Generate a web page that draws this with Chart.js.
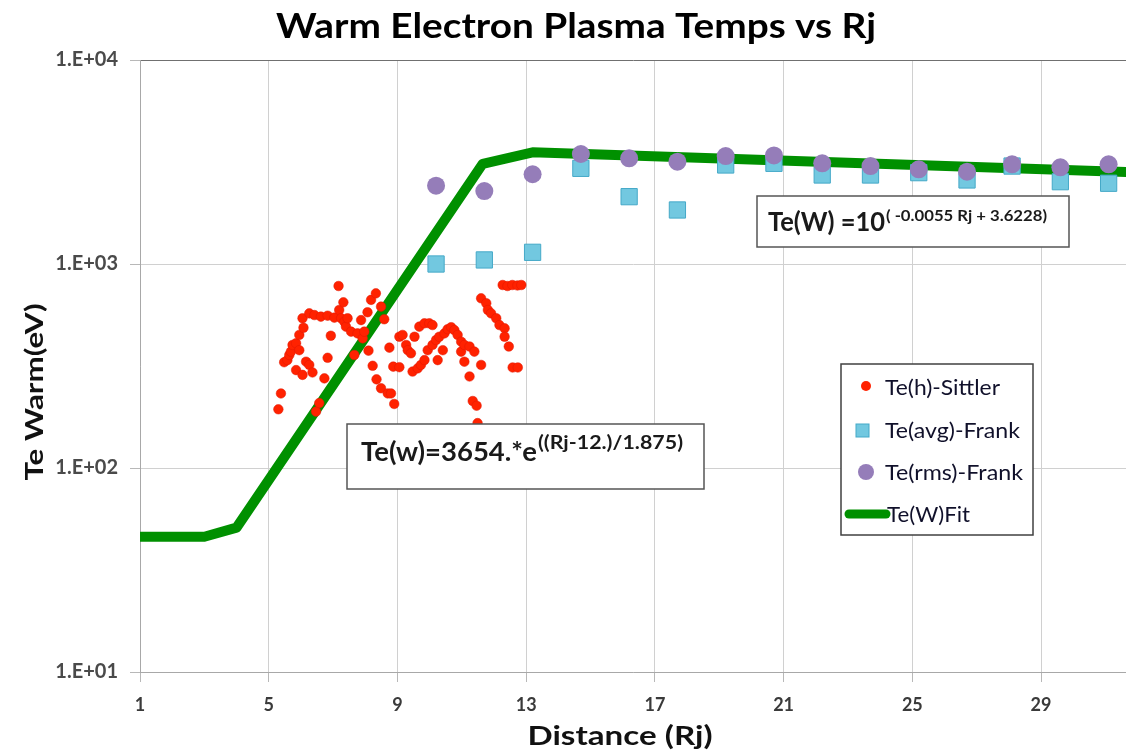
<!DOCTYPE html>
<html><head><meta charset="utf-8">
<script src="https://cdn.jsdelivr.net/npm/chart.js@4"></script>
<style>html,body{margin:0;padding:0;background:#fff;}#wrap{width:1126px;height:753px;position:relative;}canvas{display:block}</style>
</head><body><div id="wrap"><canvas id="c" width="1126" height="753"></canvas></div>
<script>
const chartTitle = 'Warm Electron Plasma Temps vs Rj';
const xAxisTitle = 'Distance (Rj)';
const yAxisTitle = 'Te Warm(eV)';
const xTicks = [1, 5, 9, 13, 17, 21, 25, 29];
const yTicks = [10, 100, 1000, 10000];
const yTickLabels = ['1.E+01', '1.E+02', '1.E+03', '1.E+04'];
const legendLabels = ['Te(h)-Sittler', 'Te(avg)-Frank', 'Te(rms)-Frank', 'Te(W)Fit'];
const fitNote1 = ['Te(w)=3654.*e', '((Rj-12.)/1.875)'];
const fitNote2 = ['Te(W) =10', '( -0.0055 Rj + 3.6228)'];

const sittlerRj = [5.30,5.38,5.48,5.58,5.64,5.69,5.74,5.85,5.95,5.95,6.05,6.08,5.85,6.05,6.16,6.26,6.26,6.36,6.42,6.47,
  6.57,6.62,6.73,6.83,6.83,6.93,7.04,7.17,7.19,7.25,7.32,7.35,7.40,7.45,7.56,7.66,7.76,7.87,7.92,7.97,
  8.07,8.10,8.18,8.23,8.33,8.35,8.49,8.49,8.59,8.70,8.75,8.87,8.90,8.80,9.06,9.06,9.16,9.27,9.32,9.42,
  9.47,9.53,9.63,9.68,9.73,9.84,9.84,9.94,9.99,10.09,10.09,10.20,10.25,10.30,10.41,10.46,10.56,10.67,10.77,10.87,
  10.98,10.98,11.08,11.08,11.24,11.24,11.39,11.34,11.46,11.49,11.60,11.60,11.76,11.81,11.91,12.07,12.17,12.33,12.33,12.46,
  12.58,12.74,12.27,12.42,12.57,12.73,12.85];
const sittlerTe = [194,232,330,338,358,372,401,409,449,378,542,487,302,286,332,320,573,294,562,189,
  208,552,275,558,347,445,546,780,595,542,649,521,493,542,466,358,457,531,432,466,
  580,376,667,317,718,272,618,246,536,232,389,314,206,232,440,312,449,401,378,365,
  297,440,308,493,320,512,338,378,512,502,401,424,338,440,378,457,479,490,474,449,
  416,372,401,332,394,281,372,213,202,166,320,679,642,595,573,542,502,484,440,394,
  311,311,789,780,789,785,789];

const frankRj = [10.2,11.7,13.2,14.7,16.2,17.7,19.2,20.7,22.2,23.7,25.2,26.7,28.1,29.6,31.1];
const frankAvgTe = [1000,1047,1141,2944,2138,1840,3058,3116,2731,2731,2804,2582,3021,2532,2488];
const frankRmsTe = [2421,2279,2754,3461,3298,3172,3383,3404,3116,3021,2911,2834,3082,2979,3082];

const fitRj = [1, 3, 4, 11.65, 13.2, 32];
const fitTe = [46, 46, 51, 3100, 3530, 2810];

const RED = '#ff2200', BLUE = '#72c8e0', BLUE_B = '#45a9c8', PURPLE = '#957db9', GREEN = '#009000';

const toXY = (xs, ys) => xs.map((x, i) => ({x, y: ys[i]}));

function fitText(ctx, text, x, y, font, targetW, color, align) {
  ctx.save();
  ctx.font = font;
  const w = ctx.measureText(text).width;
  const s = targetW ? targetW / w : 1;
  ctx.translate(x, y);
  ctx.scale(s, 1);
  ctx.fillStyle = color;
  ctx.textAlign = align || 'left';
  ctx.textBaseline = 'alphabetic';
  ctx.fillText(text, 0, 0);
  ctx.restore();
}
function fitTextMid(ctx, text, x, y, font, targetW, color) {
  ctx.save();
  ctx.font = font;
  const w = ctx.measureText(text).width;
  const s = targetW ? targetW / w : 1;
  ctx.translate(x, y);
  ctx.scale(s, 1);
  ctx.fillStyle = color;
  ctx.textAlign = 'left';
  ctx.textBaseline = 'middle';
  ctx.fillText(text, 0, 0);
  ctx.restore();
}

const overlay = {
  id: 'overlay',
  afterDraw(chart) {
    const ctx = chart.ctx;
    ctx.save();
    fitText(ctx, chartTitle, 576, 38, 'bold 34px Lato', 600, '#000', 'center');
    fitText(ctx, xAxisTitle, 620, 745, 'bold 26px Lato', 185, '#111', 'center');
    ctx.save();
    ctx.translate(43, 392);
    ctx.rotate(-Math.PI / 2);
    fitText(ctx, yAxisTitle, 0, 0, 'bold 25px Lato', 177, '#111', 'center');
    ctx.restore();

    ctx.fillStyle = '#fff';
    ctx.fillRect(347, 424, 357, 65);
    ctx.strokeStyle = '#555';
    ctx.lineWidth = 1.5;
    ctx.strokeRect(347, 424, 357, 65);
    fitText(ctx, fitNote1[0], 361, 461, 'bold 26px Lato', 176, '#1a1a1a');
    fitText(ctx, fitNote1[1], 538, 449, 'bold 18px Lato', 145, '#1a1a1a');

    ctx.fillStyle = '#fff';
    ctx.fillRect(757, 196, 312, 51);
    ctx.strokeRect(757, 196, 312, 51);
    fitText(ctx, fitNote2[0], 768, 231, 'bold 26px Lato', 117, '#1a1a1a');
    fitText(ctx, fitNote2[1], 886, 221, 'bold 16px Lato', 161, '#1a1a1a');

    ctx.fillStyle = '#fff';
    ctx.fillRect(841, 364, 192, 171);
    ctx.strokeStyle = '#404040';
    ctx.strokeRect(841, 364, 192, 171);
    ctx.fillStyle = RED;
    ctx.beginPath(); ctx.arc(866, 386, 5, 0, Math.PI * 2); ctx.fill();
    ctx.fillStyle = BLUE; ctx.strokeStyle = BLUE_B; ctx.lineWidth = 1;
    ctx.fillRect(856, 424, 13, 13); ctx.strokeRect(856, 424, 13, 13);
    ctx.fillStyle = PURPLE;
    ctx.beginPath(); ctx.arc(866, 472, 8, 0, Math.PI * 2); ctx.fill();
    ctx.strokeStyle = GREEN; ctx.lineWidth = 9; ctx.lineCap = 'round';
    ctx.beginPath(); ctx.moveTo(849, 514); ctx.lineTo(886, 514); ctx.stroke();
    const lw = [115, 135, 138, 83];
    const ly = [388, 431, 473, 515];
    const lx = [885, 885, 885, 887];
    legendLabels.forEach((t, i) => fitTextMid(ctx, t, lx[i], ly[i], '21px Lato', lw[i], '#10102a'));
    ctx.restore();
  }
};

new Chart(document.getElementById('c'), {
  type: 'scatter',
  data: {
    datasets: [
      { label: legendLabels[2], data: toXY(frankRj, frankRmsTe), pointStyle: 'circle', pointRadius: 9,
        backgroundColor: PURPLE, borderColor: PURPLE, borderWidth: 0, order: 0 },
      { label: legendLabels[1], data: toXY(frankRj, frankAvgTe), pointStyle: 'rect', pointRadius: 11.5,
        backgroundColor: BLUE, borderColor: BLUE_B, borderWidth: 1, order: 1 },
      { label: legendLabels[0], data: toXY(sittlerRj, sittlerTe), pointStyle: 'circle', pointRadius: 4.8,
        backgroundColor: RED, borderColor: '#e01800', borderWidth: 0.5, order: 2 },
      { label: legendLabels[3], type: 'line', data: toXY(fitRj, fitTe), borderColor: GREEN, backgroundColor: GREEN,
        borderWidth: 10, pointRadius: 0, tension: 0, borderJoinStyle: 'round', borderCapStyle: 'butt', fill: false, order: 3 }
    ]
  },
  options: {
    responsive: false,
    devicePixelRatio: 1,
    animation: false,
    layout: { autoPadding: false, padding: { top: 60, left: 0, right: 0, bottom: 0 } },
    plugins: { legend: { display: false }, title: { display: false }, tooltip: { enabled: false } },
    scales: {
      x: {
        type: 'linear', min: 1, max: 31.64,
        afterBuildTicks: s => { s.ticks = xTicks.map(v => ({ value: v })); },
        afterFit: s => { s.height = 81; s.paddingLeft = 0; s.paddingRight = 0; },
        grid: { color: '#d0d0d0', lineWidth: 1, tickLength: 10, tickColor: '#b8b8b8' },
        border: { color: '#a8a8a8', width: 1 },
        ticks: { font: { family: 'Lato', weight: 'bold', size: 18 }, color: '#3a3a3a', padding: 12, maxRotation: 0, autoSkip: false }
      },
      y: {
        type: 'logarithmic', min: 10, max: 10000,
        afterBuildTicks: s => { s.ticks = yTicks.map(v => ({ value: v })); },
        afterFit: s => { s.width = 140; s.paddingTop = 0; s.paddingBottom = 0; },
        grid: { color: ctx => (ctx.tick && ctx.tick.value === 10000) ? '#707070' : '#d0d0d0', lineWidth: 1, tickLength: 10, tickColor: '#b8b8b8' },
        border: { color: '#a8a8a8', width: 1 },
        ticks: {
          font: { family: 'Lato', weight: 'bold', size: 20 }, color: '#4a4a4a', padding: 12, autoSkip: false,
          callback: v => { const i = yTicks.indexOf(Number(v)); return i >= 0 ? yTickLabels[i] : ''; }
        }
      }
    }
  },
  plugins: [overlay]
});
</script></body></html>
